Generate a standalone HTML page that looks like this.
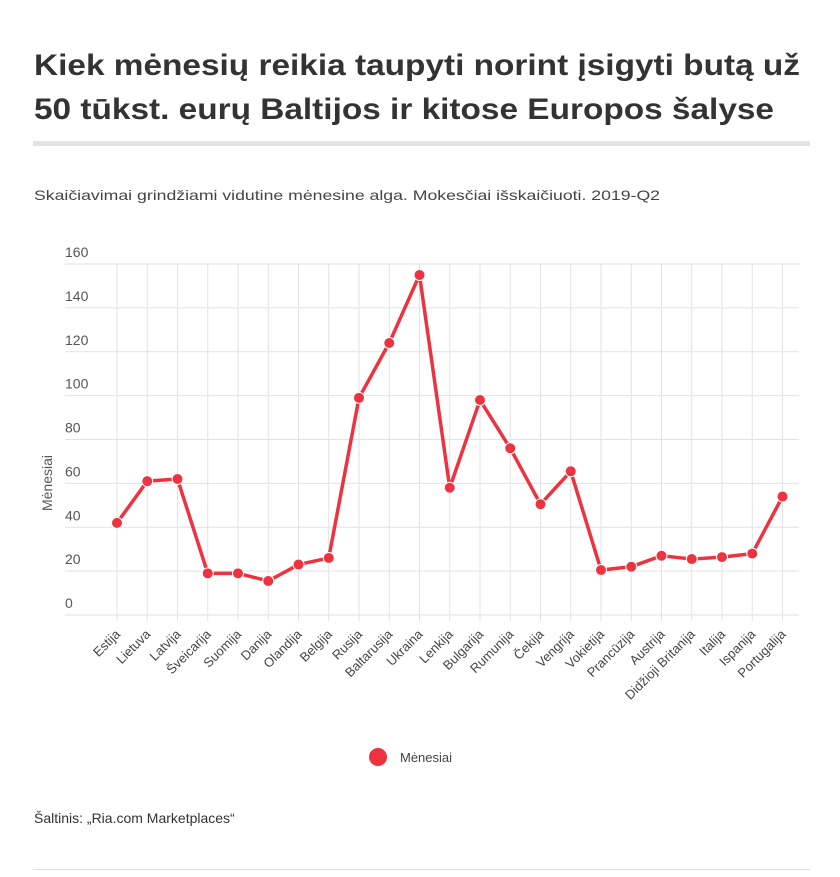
<!DOCTYPE html>
<html><head><meta charset="utf-8"><style>
body{margin:0;background:#fff;width:840px;height:872px;overflow:hidden;font-family:"Liberation Sans",sans-serif}
</style></head><body>
<svg width="840" height="872" xmlns="http://www.w3.org/2000/svg">
<g font-family="Liberation Sans, sans-serif" font-weight="bold" font-size="30" fill="#333">
<text x="34" y="75" textLength="766" lengthAdjust="spacingAndGlyphs">Kiek mėnesių reikia taupyti norint įsigyti butą už</text>
<text x="34" y="119" textLength="740" lengthAdjust="spacingAndGlyphs">50 tūkst. eurų Baltijos ir kitose Europos šalyse</text>
</g>
<rect x="33" y="141" width="777" height="5" fill="#e3e3e3"/>
<text x="34" y="200" font-size="14" fill="#444" textLength="626" lengthAdjust="spacingAndGlyphs">Skaičiavimai grindžiami vidutine mėnesine alga. Mokesčiai išskaičiuoti. 2019-Q2</text>
<g id="grid"></g>
<g id="marks"></g>
<text transform="translate(52,483) rotate(-90)" text-anchor="middle" font-size="14" fill="#555">Mėnesiai</text>
<g>
<circle cx="378" cy="757" r="9" fill="#ee3340"/>
<text x="400" y="762" font-size="13" fill="#444">Mėnesiai</text>
</g>
<text x="34" y="823" font-size="14" fill="#333">Šaltinis: „Ria.com Marketplaces“</text>
<rect x="33" y="869" width="777" height="1" fill="#ddd"/>
</svg>
<script>
const categories=["Estija","Lietuva","Latvija","Šveicarija","Suomija","Danija","Olandija","Belgija","Rusija","Baltarusija","Ukraina","Lenkija","Bulgarija","Rumunija","Čekija","Vengrija","Vokietija","Prancūzija","Austrija","Didžioji Britanija","Italija","Ispanija","Portugalija"];
const values=[42,61,62,19,19,15.5,23,26,99,124,155,58,98,76,50.5,65.5,20.5,22,27,25.5,26.4,28,54];
const yTicks=[0,20,40,60,80,100,120,140,160];
const NS="http://www.w3.org/2000/svg";
const y0=615,yTop=264,yMax=160,x0=117,step=30.25,left=65,right=799;
function yS(v){return y0-(v/yMax)*(y0-yTop);}
function xS(i){return x0+i*step;}
function mk(t,a,p){const e=document.createElementNS(NS,t);for(const k in a)e.setAttribute(k,a[k]);p.appendChild(e);return e;}
const grid=document.getElementById('grid'),marks=document.getElementById('marks');
yTicks.forEach(t=>{
 const l=mk('line',{x1:left,x2:right,y1:yS(t),y2:yS(t),stroke:'#e2e2e2','stroke-width':1},grid);
 
 
 const tx=mk('text',{x:left,y:yS(t)-7,'font-size':14,fill:'#555'},grid);
 tx.textContent=t;
 
 
});
categories.forEach((c,i)=>{
 const l=mk('line',{x1:xS(i),x2:xS(i),y1:yTop,y2:y0+6,stroke:'#e2e2e2','stroke-width':1},grid);
 
 
 const tx=mk('text',{x:xS(i)+4,y:y0+20,'font-size':13,fill:'#444','text-anchor':'end',transform:`rotate(-45 ${xS(i)+4} ${y0+20})`},grid);
 tx.textContent=c;
 
 
});
const pl=mk('polyline',{points:values.map((v,i)=>xS(i)+','+yS(v)).join(' '),fill:'none',stroke:'#ee3340','stroke-width':3.5,'stroke-linejoin':'round'},marks);


values.forEach((v,i)=>{
 const c=mk('circle',{cx:xS(i),cy:yS(v),r:5.5,fill:'#ee3340',stroke:'#fff','stroke-width':1},marks);
 
 
});
</script>
</body></html>
